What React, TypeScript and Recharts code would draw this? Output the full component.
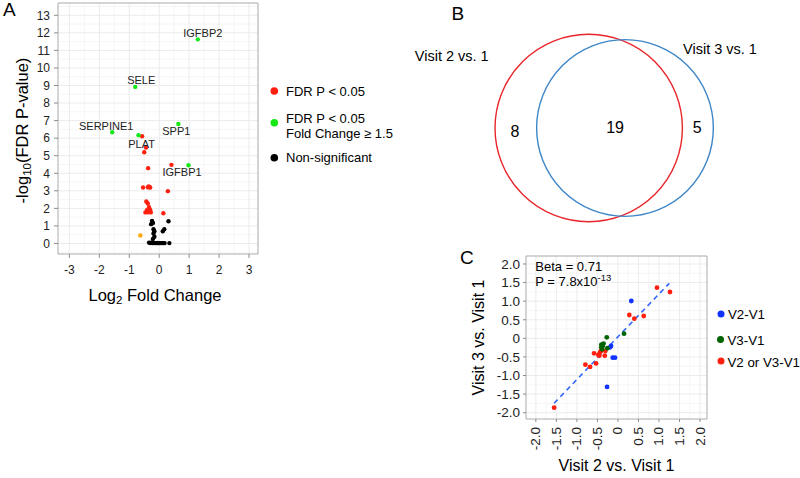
import {
  ScatterChart,
  Scatter,
  XAxis,
  YAxis,
  CartesianGrid,
  ReferenceArea,
  ReferenceLine,
  Label,
} from "recharts";

const FONT = "'Liberation Sans', Arial, Helvetica, sans-serif";

// ---------- A: volcano plot ----------
const volcanoXTicks = [-3, -2, -1, 0, 1, 2, 3];
const volcanoXMinor = [-2.5, -1.5, -0.5, 0.5, 1.5, 2.5];
const volcanoYTicks = [0, 1, 2, 3, 4, 5, 6, 7, 8, 9, 10, 11, 12, 13];
const volcanoYMinor = [-0.5, 0.5, 1.5, 2.5, 3.5, 4.5, 5.5, 6.5, 7.5, 8.5, 9.5, 10.5, 11.5, 12.5, 13.5];
const volcanoXDomain = [-3.38, 3.3];
const volcanoYDomain = [-0.6, 13.7];

// FDR P < 0.05 and fold change >= 1.5 (labelled)
const fcGenes = [
  { gene: "IGFBP2", x: 1.29, y: 11.63 },
  { gene: "SELE", x: -0.8, y: 8.92 },
  { gene: "SERPINE1", x: -1.57, y: 6.34 },
  { gene: "SPP1", x: 0.64, y: 6.81 },
  { gene: "PLAT", x: -0.69, y: 6.17 },
  { gene: "IGFBP1", x: 0.98, y: 4.46 },
];

// FDR P < 0.05
const fdrGenes = [
  { x: -0.57, y: 6.11 }, { x: -0.44, y: 5.47 }, { x: -0.5, y: 5.2 },
  { x: -0.37, y: 4.29 }, { x: 0.41, y: 4.48 }, { x: -0.54, y: 3.19 },
  { x: -0.38, y: 3.2 }, { x: -0.33, y: 3.2 }, { x: -0.3, y: 3.19 },
  { x: -0.35, y: 3.25 }, { x: 0.29, y: 2.98 }, { x: -0.43, y: 2.39 },
  { x: -0.38, y: 2.28 }, { x: -0.34, y: 2.07 }, { x: -0.41, y: 1.9 },
  { x: -0.46, y: 1.77 }, { x: -0.3, y: 1.91 }, { x: -0.28, y: 1.77 },
  { x: -0.37, y: 1.78 }, { x: 0.14, y: 1.72 },
];

// non-significant
const nsGenes = [
  { x: -0.24, y: 1.29 }, { x: -0.21, y: 1.17 }, { x: -0.27, y: 1.1 },
  { x: 0.31, y: 1.27 }, { x: -0.19, y: 0.81 }, { x: -0.16, y: 0.7 },
  { x: 0.17, y: 0.81 }, { x: 0.12, y: 0.7 }, { x: -0.19, y: 0.57 },
  { x: -0.16, y: 0.38 }, { x: -0.21, y: 0.26 },
  { x: -0.34, y: 0.05 }, { x: -0.3, y: 0.03 }, { x: -0.26, y: 0.04 },
  { x: -0.22, y: 0.02 }, { x: -0.18, y: 0.03 }, { x: -0.14, y: 0.02 },
  { x: -0.1, y: 0.02 }, { x: -0.06, y: 0.03 }, { x: -0.02, y: 0.02 },
  { x: 0.02, y: 0.02 }, { x: 0.06, y: 0.02 }, { x: 0.1, y: 0.02 },
  { x: 0.14, y: 0.02 }, { x: 0.18, y: 0.02 }, { x: 0.34, y: 0.02 },
];

const oddGene = [{ x: -0.63, y: 0.46 }];

// label offsets (px) for the gene names
const geneNudge: Record<string, [number, number]> = {
  IGFBP2: [5, -6],
  SELE: [6, -7],
  SERPINE1: [-6, -6],
  SPP1: [-2, 7],
  PLAT: [3, 9],
  IGFBP1: [-6.5, 7],
};

// ---------- B: venn ----------
const vennXDomain = [-2.014, 1.828];
const vennYDomain = [-1.195, 1.366];
const VENN_W = 360;
const VENN_H = 240;
const VENN_PX = VENN_W / (vennXDomain[1] - vennXDomain[0]);

const vennSets = [
  { set: "Visit 2 vs. 1", x: 0, y: 0, r: 1 },
  { set: "Visit 3 vs. 1", x: 0.387, y: 0, r: 0.943 },
];
const vennCounts = [
  { count: 8, x: -0.787, y: -0.035 },
  { count: 19, x: 0.281, y: 0.003 },
  { count: 5, x: 1.159, y: 0.003 },
];
const vennSetLabels = [
  { text: "Visit 2 vs. 1", x: -1.462, y: 0.768 },
  { text: "Visit 3 vs. 1", x: 1.401, y: 0.843 },
];

// ---------- C: visit 2 vs visit 3 ----------
const corrTicks = [-2, -1.5, -1, -0.5, 0, 0.5, 1, 1.5, 2];
const corrMinor = [-1.75, -1.25, -0.75, -0.25, 0.25, 0.75, 1.25, 1.75];
const corrXDomain = [-2.24, 2.17];
const corrYDomain = [-2.17, 2.215];

const v2Only = [
  { x: 0.326, y: 1.004 }, { x: -0.168, y: -0.206 }, { x: -0.192, y: -0.241 },
  { x: -0.127, y: -0.52 }, { x: -0.071, y: -0.52 }, { x: -0.265, y: -1.308 },
];
const v3Only = [
  { x: -0.272, y: 0.028 }, { x: 0.148, y: 0.125 }, { x: -0.404, y: -0.171 },
  { x: -0.37, y: -0.206 }, { x: -0.404, y: -0.241 }, { x: -0.387, y: -0.294 },
  { x: -0.258, y: -0.267 }, { x: -0.35, y: -0.14 },
];
const v2orV3 = [
  { x: -1.555, y: -1.864 }, { x: -0.793, y: -0.708 }, { x: -0.679, y: -0.77 },
  { x: -0.533, y: -0.676 }, { x: 0.951, y: 1.362 }, { x: 1.268, y: 1.246 },
  { x: 0.277, y: 0.628 }, { x: 0.399, y: 0.528 }, { x: 0.628, y: 0.601 },
  { x: -0.582, y: -0.402 }, { x: -0.477, y: -0.448 }, { x: -0.436, y: -0.375 },
  { x: -0.453, y: -0.466 }, { x: -0.307, y: -0.34 }, { x: -0.321, y: -0.466 },
  { x: -0.411, y: -0.332 },
];
const fitLine = [
  { x: -1.555, y: -1.746 },
  { x: 1.251, y: 1.48 },
];

const RED = "#ff1f0f";
const GREEN = "#16e816";
const ORANGE = "#ffa500";
const BLUE = "#1133ff";
const DKGREEN = "#006400";
const GRID = "#ebebeb";
const GRID_MINOR = "#f4f4f4";
const BORDER = "#aaaaaa";
const TICK = "#8c8c8c";
const TEXT = "#222";

const dot = (fill: string, r: number) => (p: any) =>
  <circle cx={p.cx} cy={p.cy} r={r} fill={fill} />;

const geneLabel = (p: any) => {
  const [dx, dy] = geneNudge[p.payload.gene] ?? [0, -8];
  return (
    <text x={p.cx + dx} y={p.cy + dy} textAnchor="middle" dominantBaseline="central"
      fontSize={11} fill={TEXT} fontFamily={FONT}>
      {p.payload.gene}
    </text>
  );
};

function VolcanoXTitle({ viewBox }: any) {
  const cx = viewBox.x + viewBox.width / 2 - 3;
  const cy = viewBox.y + 41;
  return (
    <text x={cx} y={cy} textAnchor="middle" dominantBaseline="central" fontSize={16.5} fill="#000" fontFamily={FONT}>
      Log<tspan dy={5} fontSize={11.5}>2</tspan><tspan dy={-5}> Fold Change</tspan>
    </text>
  );
}

function VolcanoYTitle({ viewBox }: any) {
  const cx = viewBox.x + 4;
  const cy = viewBox.y + viewBox.height / 2 + 2;
  return (
    <text x={cx} y={cy} transform={`rotate(-90, ${cx}, ${cy})`} textAnchor="middle"
      dominantBaseline="central" fontSize={16.5} fill="#000" fontFamily={FONT}>
      -log<tspan dy={5} fontSize={11.5}>10</tspan><tspan dy={-5}>(FDR P-value)</tspan>
    </text>
  );
}

const fmtCorr = (v: number) => (v === 0 ? "0" : v.toFixed(1));

function RotatedTick({ x, y, payload }: any) {
  return (
    <text x={x} y={y} transform={`rotate(-90, ${x}, ${y})`} textAnchor="end"
      dominantBaseline="central" fontSize={13.5} fill={TEXT} fontFamily={FONT}>
      {fmtCorr(payload.value)}
    </text>
  );
}

function CorrXTitle({ viewBox }: any) {
  const cx = viewBox.x + viewBox.width / 2;
  const cy = viewBox.y + 46;
  return (
    <text x={cx} y={cy} textAnchor="middle" dominantBaseline="central" fontSize={16} fill="#000" fontFamily={FONT}>
      Visit 2 vs. Visit 1
    </text>
  );
}

function CorrYTitle({ viewBox }: any) {
  const cx = viewBox.x + 2;
  const cy = viewBox.y + viewBox.height / 2;
  return (
    <text x={cx} y={cy} transform={`rotate(-90, ${cx}, ${cy})`} textAnchor="middle"
      dominantBaseline="central" fontSize={16} fill="#000" fontFamily={FONT}>
      Visit 3 vs. Visit 1
    </text>
  );
}

const vennColors = ["#e8262b", "#3d86c8"];

export default function App() {
  return (
    <div style={{ position: "absolute", left: 0, top: 0, width: 800, height: 478, background: "#fff", fontFamily: FONT, overflow: "hidden" }}>
      {/* A */}
      <div style={{ position: "absolute", left: 0, top: 0 }}>
        <ScatterChart width={262} height={320} margin={{ top: 3, right: 4, bottom: 16, left: 18 }}>
          <CartesianGrid stroke={GRID_MINOR} strokeWidth={0.8} horizontalValues={volcanoYMinor} verticalValues={volcanoXMinor} />
          <CartesianGrid stroke={GRID} strokeWidth={1} horizontalValues={volcanoYTicks} verticalValues={volcanoXTicks} />
          <XAxis type="number" dataKey="x" domain={volcanoXDomain} ticks={volcanoXTicks} allowDataOverflow
            interval={0} height={50} tickSize={4} tickMargin={7} axisLine={false}
            tickLine={{ stroke: TICK }} tick={{ fontSize: 12, fill: TEXT }}>
            <Label content={(p: any) => <VolcanoXTitle {...p} />} />
          </XAxis>
          <YAxis type="number" dataKey="y" domain={volcanoYDomain} ticks={volcanoYTicks} allowDataOverflow
            interval={0} width={40} tickSize={4} tickMargin={4} axisLine={false}
            tickLine={{ stroke: TICK }} tick={{ fontSize: 12, fill: TEXT }}>
            <Label content={(p: any) => <VolcanoYTitle {...p} />} />
          </YAxis>
          <ReferenceArea x1={volcanoXDomain[0]} x2={volcanoXDomain[1]} y1={volcanoYDomain[0]} y2={volcanoYDomain[1]}
            fill="none" stroke={BORDER} strokeWidth={1} />
          <Scatter data={nsGenes} shape={dot("#000", 2.2)} isAnimationActive={false} />
          <Scatter data={oddGene} shape={dot(ORANGE, 2.2)} isAnimationActive={false} />
          <Scatter data={fdrGenes} shape={dot(RED, 2.2)} isAnimationActive={false} />
          <Scatter data={fcGenes} shape={dot(GREEN, 2.2)} isAnimationActive={false} />
          <Scatter data={fcGenes} shape={geneLabel} isAnimationActive={false} />
        </ScatterChart>
      </div>

      {/* B */}
      <div style={{ position: "absolute", left: 400, top: 0 }}>
        <ScatterChart width={VENN_W} height={VENN_H} margin={{ top: 0, right: 0, bottom: 0, left: 0 }}>
          <XAxis type="number" dataKey="x" domain={vennXDomain} hide allowDataOverflow />
          <YAxis type="number" dataKey="y" domain={vennYDomain} hide allowDataOverflow />
          {vennSets.map((s, i) => (
            <Scatter key={s.set} data={[s]} isAnimationActive={false}
              shape={(p: any) => (
                <circle cx={p.cx} cy={p.cy} r={p.payload.r * VENN_PX} fill="none"
                  stroke={vennColors[i]} strokeWidth={1.4} />
              )} />
          ))}
          <Scatter data={vennCounts} isAnimationActive={false}
            shape={(p: any) => (
              <text x={p.cx} y={p.cy} textAnchor="middle" dominantBaseline="central" fontSize={16} fill="#000" fontFamily={FONT}>
                {p.payload.count}
              </text>
            )} />
          <Scatter data={vennSetLabels} isAnimationActive={false}
            shape={(p: any) => (
              <text x={p.cx} y={p.cy} textAnchor="middle" dominantBaseline="central" fontSize={14.5} fill="#000" fontFamily={FONT}>
                {p.payload.text}
              </text>
            )} />
        </ScatterChart>
      </div>

      {/* C */}
      <div style={{ position: "absolute", left: 440, top: 240 }}>
        <ScatterChart width={360} height={238} margin={{ top: 16, right: 93, bottom: 9, left: 36 }}>
          <CartesianGrid stroke={GRID_MINOR} strokeWidth={0.8} horizontalValues={corrMinor} verticalValues={corrMinor} />
          <CartesianGrid stroke={GRID} strokeWidth={1} horizontalValues={corrTicks} verticalValues={corrTicks} />
          <XAxis type="number" dataKey="x" domain={corrXDomain} ticks={corrTicks} allowDataOverflow
            interval={0} height={50} tickSize={3} tickMargin={5} axisLine={false}
            tickLine={{ stroke: TICK }} tick={<RotatedTick />}>
            <Label content={(p: any) => <CorrXTitle {...p} />} />
          </XAxis>
          <YAxis type="number" dataKey="y" domain={corrYDomain} ticks={corrTicks} allowDataOverflow
            interval={0} width={50} tickSize={3} tickMargin={3} axisLine={false} tickFormatter={fmtCorr}
            tickLine={{ stroke: TICK }} tick={{ fontSize: 13.5, fill: TEXT }}>
            <Label content={(p: any) => <CorrYTitle {...p} />} />
          </YAxis>
          <ReferenceArea x1={corrXDomain[0]} x2={corrXDomain[1]} y1={corrYDomain[0]} y2={corrYDomain[1]}
            fill="none" stroke={BORDER} strokeWidth={1} />
          <ReferenceLine segment={fitLine} stroke="#3366ff" strokeWidth={1.6} strokeDasharray="5 4" />
          <Scatter data={v2orV3} shape={dot(RED, 2.4)} isAnimationActive={false} />
          <Scatter data={v2Only} shape={dot(BLUE, 2.4)} isAnimationActive={false} />
          <Scatter data={v3Only} shape={dot(DKGREEN, 2.4)} isAnimationActive={false} />
        </ScatterChart>
      </div>

      {/* panel letters, legends, annotation */}
      <svg width={800} height={478} style={{ position: "absolute", left: 0, top: 0, pointerEvents: "none" }} fontFamily={FONT}>
        <text x={3} y={16} fontSize={19} fill="#000">A</text>
        <text x={451.5} y={20} fontSize={19} fill="#000">B</text>
        <text x={460} y={264} fontSize={19} fill="#000">C</text>

        <g fontSize={13} fill="#000">
          <circle cx={274.3} cy={91} r={3.8} fill={RED} />
          <text x={286} y={91} dominantBaseline="central">FDR P &lt; 0.05</text>
          <circle cx={274.3} cy={122.7} r={3.8} fill={GREEN} />
          <text x={286} y={118.3} dominantBaseline="central">FDR P &lt; 0.05</text>
          <text x={286} y={133.5} dominantBaseline="central">Fold Change ≥ 1.5</text>
          <circle cx={274.3} cy={157.7} r={3.8} fill="#000" />
          <text x={286} y={157.7} dominantBaseline="central">Non-significant</text>
        </g>

        <g fontSize={13} fill="#000">
          <text x={535.3} y={266.7} dominantBaseline="central">Beta = 0.71</text>
          <text x={535.3} y={281.7} dominantBaseline="central">
            P = 7.8x10<tspan dy={-5} fontSize={9.5}>-13</tspan>
          </text>
        </g>

        <g fontSize={13.3} fill="#000">
          <circle cx={721} cy={314} r={3.5} fill={BLUE} />
          <text x={728} y={314} dominantBaseline="central">V2-V1</text>
          <circle cx={720.5} cy={339.5} r={3.5} fill={DKGREEN} />
          <text x={727.5} y={340} dominantBaseline="central">V3-V1</text>
          <circle cx={721} cy={361} r={3.5} fill={RED} />
          <text x={727.5} y={362.5} dominantBaseline="central">V2 or V3-V1</text>
        </g>
      </svg>
    </div>
  );
}
